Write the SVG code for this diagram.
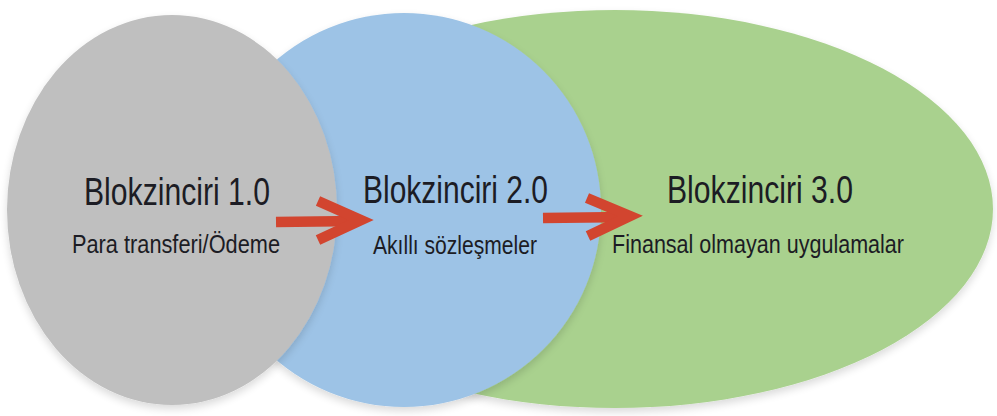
<svg xmlns="http://www.w3.org/2000/svg" width="997" height="416" viewBox="0 0 997 416">
  <defs>
    <filter id="sh" x="-10%" y="-10%" width="120%" height="125%">
      <feGaussianBlur in="SourceAlpha" stdDeviation="4"/>
      <feOffset dx="0" dy="4" result="b"/>
      <feComponentTransfer><feFuncA type="linear" slope="0.15"/></feComponentTransfer>
      <feMerge><feMergeNode/><feMergeNode in="SourceGraphic"/></feMerge>
    </filter>
  </defs>
  <style>
    .title { font-family: "Liberation Sans", Arial, sans-serif; font-size: 38px; fill: #1c1c24; text-anchor: start; }
    .sub { font-family: "Liberation Sans", Arial, sans-serif; font-size: 25px; fill: #1c1c24; text-anchor: start; }
    .arrow { fill: none; stroke: #D2452F; stroke-width: 10.5; stroke-linejoin: miter; stroke-linecap: butt; }
  </style>
  <rect width="997" height="416" fill="#ffffff"/>
  <g id="node-3">
    <ellipse cx="615" cy="209" rx="378" ry="199" fill="#A9D18E" filter="url(#sh)"/>
  </g>
  <g id="node-2">
    <circle cx="404" cy="210" r="197" fill="#9DC3E6" filter="url(#sh)"/>
  </g>
  <g id="node-1">
    <ellipse cx="172" cy="210" rx="165" ry="195" fill="#BFBFBF" filter="url(#sh)"/>
  </g>
  <g id="connectors">
    <path class="arrow" d="M276 222 L358 221"/>
    <path class="arrow" d="M318 201 L361 220 L318 240"/>
    <path class="arrow" d="M543 218 L628 217"/>
    <path class="arrow" d="M587 198 L630 216 L588 236"/>
  </g>
  <g id="label-1">
    <text class="title" x="84" y="205" textLength="186" lengthAdjust="spacingAndGlyphs">Blokzinciri 1.0</text>
    <text class="sub" x="72" y="253" textLength="208" lengthAdjust="spacingAndGlyphs">Para transferi/Ödeme</text>
  </g>
  <g id="label-2">
    <text class="title" x="363" y="203" textLength="185" lengthAdjust="spacingAndGlyphs">Blokzinciri 2.0</text>
    <text class="sub" x="373" y="254" textLength="164" lengthAdjust="spacingAndGlyphs">Akıllı sözleşmeler</text>
  </g>
  <g id="label-3">
    <text class="title" x="667" y="203" textLength="186" lengthAdjust="spacingAndGlyphs">Blokzinciri 3.0</text>
    <text class="sub" x="612" y="253" textLength="292" lengthAdjust="spacingAndGlyphs">Finansal olmayan uygulamalar</text>
  </g>
</svg>
